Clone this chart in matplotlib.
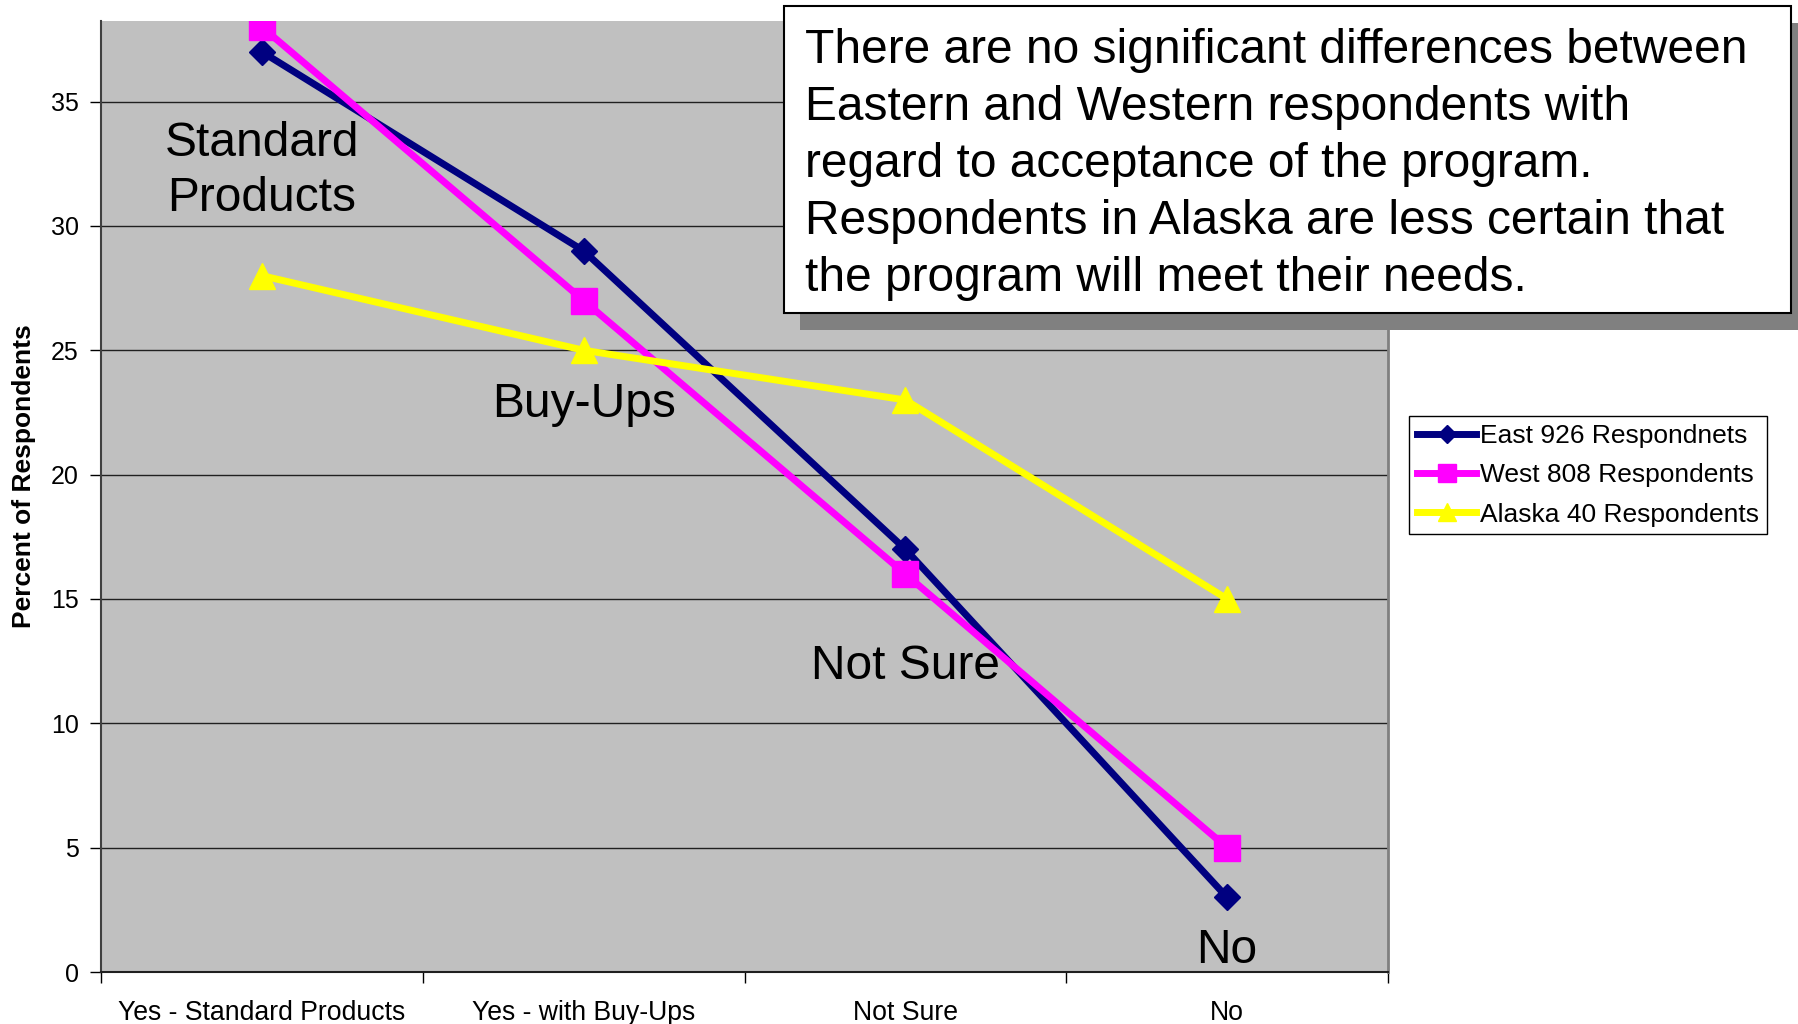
import matplotlib
matplotlib.use('Agg')
import matplotlib.pyplot as plt
from matplotlib.patches import Rectangle

plt.rcParams['font.family'] = ['Liberation Sans', 'DejaVu Sans']

# data
categories = ['Yes - Standard Products', 'Yes - with Buy-Ups', 'Not Sure', 'No']
east = [37, 29, 17, 3]
west = [38, 27, 16, 5]
alaska = [28, 25, 23, 15]
series_labels = ['East 926 Respondnets', 'West 808 Respondents', 'Alaska 40 Respondents']
point_labels = ['Standard\nProducts', 'Buy-Ups', 'Not Sure', 'No']
point_label_y = [32.2, 22.8, 12.3, 0.87]
note = ('There are no significant differences between\n'
        'Eastern and Western respondents with\n'
        'regard to acceptance of the program.\n'
        'Respondents in Alaska are less certain that\n'
        'the program will meet their needs.')

W, H = 1798, 1024
fig = plt.figure(figsize=(W / 100, H / 100), dpi=100)
fig.patch.set_facecolor('white')

ax = fig.add_axes([101 / W, 52 / H, 1287 / W, 951 / H])
ax.set_facecolor('#c0c0c0')

x = list(range(len(categories)))
ax.plot(x, east, color='#000080', lw=5, marker='D', ms=13.5, label=series_labels[0])
ax.plot(x, west, color='#ff00ff', lw=5, marker='s', ms=19, label=series_labels[1])
ax.plot(x, alaska, color='#ffff00', lw=5, marker='^', ms=19, label=series_labels[2])

for xi, txt, yi in zip(x, point_labels, point_label_y):
    ax.text(xi, yi, txt, fontsize=34.5, ha='center', va='center', linespacing=1.28)

ax.set_xlim(-0.5, 3.5)
ax.set_ylim(0, 38.24)
ax.set_yticks(range(0, 40, 5))
ax.yaxis.grid(True, color='#202020', lw=1)
ax.set_axisbelow(True)

ax.set_xticks(x)
ax.set_xticklabels(categories, fontsize=19.2)
ax.set_xticks([-0.5, 0.5, 1.5, 2.5, 3.5], minor=True)
ax.tick_params(axis='x', which='major', length=0, pad=20)
ax.tick_params(axis='x', which='minor', length=8, width=1, direction='out')
ax.tick_params(axis='y', labelsize=18, length=8, width=1, pad=8)

ax.set_ylabel('Percent of Respondents', fontsize=19, fontweight='bold')
ax.yaxis.set_label_coords(-0.0505, 0.5215)

ax.spines['top'].set_visible(False)
ax.spines['right'].set_color('#808080')
ax.spines['right'].set_linewidth(2)
ax.spines['left'].set_color('#404040')
ax.spines['left'].set_linewidth(1.5)
ax.spines['bottom'].set_color('#202020')
ax.spines['bottom'].set_linewidth(1.5)

leg = fig.legend(loc='upper left', bbox_to_anchor=(1409 / W, 1 - 416 / H),
                 fontsize=19, frameon=True, fancybox=False, framealpha=1,
                 edgecolor='black', borderpad=0.3, labelspacing=0.58,
                 handlelength=2.25, handletextpad=0.15, markerscale=0.7,
                 borderaxespad=0)
leg.get_frame().set_linewidth(1)

# text box with shadow
bx0, by0, bx1, by1 = 784, 6, 1791, 313
fig.patches.append(Rectangle(((bx0 + 16) / W, 1 - (by1 + 17) / H), (bx1 - bx0 + 16) / W,
                             (by1 - by0) / H, transform=fig.transFigure,
                             facecolor='#808080', edgecolor='none', zorder=5))
fig.patches.append(Rectangle((bx0 / W, 1 - by1 / H), (bx1 - bx0) / W, (by1 - by0) / H,
                             transform=fig.transFigure, facecolor='white',
                             edgecolor='black', lw=1.5, zorder=6))
fig.text(805 / W, 1 - 164.5 / H, note, fontsize=34.5, ha='left', va='center',
         linespacing=1.345, zorder=7)

fig.savefig('out.png', dpi=100)
